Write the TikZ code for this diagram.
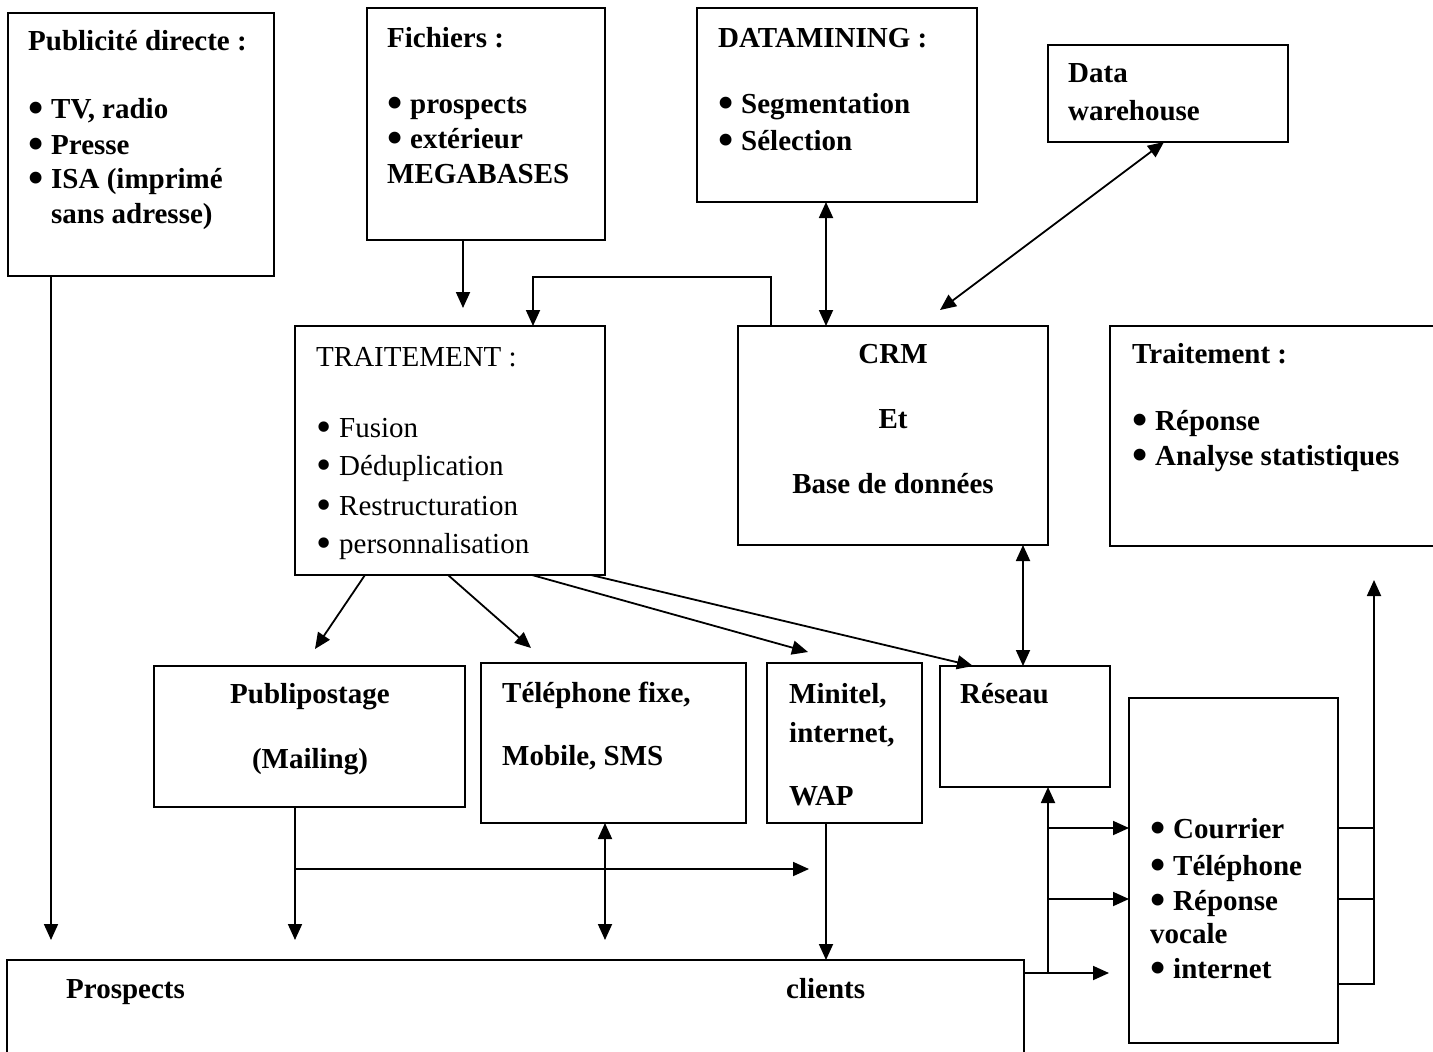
\documentclass[tikz,border=0pt]{standalone}
\usepackage{graphicx}
\usepackage{fontspec}
\setmainfont{Liberation Serif}
\usetikzlibrary{arrows.meta}
% enlarged bullet followed by a fixed indent
\newcommand\bl{\makebox[23pt][l]{\raisebox{-4.5pt}{\scalebox{1.5}{•}}}}
\begin{document}
\begin{tikzpicture}[x=1pt,y=-1pt,
  box/.style={draw, line width=2pt, inner sep=0pt, outer sep=0pt, anchor=north west},
  line/.style={inner sep=0pt, text height=20pt, text depth=6pt},
  txt/.style={line, anchor=base west, font=\fontsize{29}{35}\selectfont\bfseries},
  txtr/.style={line, anchor=base west, font=\fontsize{29}{35}\selectfont},
  txtc/.style={line, anchor=base, font=\fontsize{29}{35}\selectfont\bfseries},
  conn/.style={line width=1.8pt},
  arr/.style={conn, -{Triangle[length=16pt,width=14pt]}},
  darr/.style={conn, {Triangle[length=16pt,width=14pt]}-{Triangle[length=16pt,width=14pt]}},
]
\useasboundingbox (0,0) rectangle (1433,1052);

% boxes
\node[box, minimum width=266pt, minimum height=263pt] (A) at (8,13) {};
\node[box, minimum width=238pt, minimum height=232pt] (B) at (367,8) {};
\node[box, minimum width=280pt, minimum height=194pt] (C) at (697,8) {};
\node[box, minimum width=240pt, minimum height=97pt] (D) at (1048,45) {};
\node[box, minimum width=310pt, minimum height=249pt] (E) at (295,326) {};
\node[box, minimum width=310pt, minimum height=219pt] (F) at (738,326) {};
\node[box, minimum width=328pt, minimum height=220pt] (G) at (1110,326) {};
\node[box, minimum width=311pt, minimum height=141pt] (H) at (154,666) {};
\node[box, minimum width=265pt, minimum height=160pt] (I) at (481,663) {};
\node[box, minimum width=155pt, minimum height=160pt] (J) at (767,663) {};
\node[box, minimum width=170pt, minimum height=121pt] (K) at (940,666) {};
\node[box, minimum width=209pt, minimum height=345pt] (L) at (1129,698) {};
\node[box, minimum width=1017pt, minimum height=100pt] (M) at (7,960) {};

% texts
\node[txt] (a1) at (28,50) {Publicité directe :};
\node[txt] (a2) at (28,118) {\bl TV, radio};
\node[txt] (a3) at (28,154) {\bl Presse};
\node[txt] (a4) at (28,188) {\bl ISA (imprimé};
\node[txt] (a5) at (51,223) {sans adresse)};

\node[txt] (b1) at (387,47) {Fichiers :};
\node[txt] (b2) at (387,113) {\bl prospects};
\node[txt] (b3) at (387,148) {\bl extérieur};
\node[txt] (b4) at (387,183) {MEGABASES};

\node[txt] (c1) at (718,47) {DATAMINING :};
\node[txt] (c2) at (718,113) {\bl Segmentation};
\node[txt] (c3) at (718,150) {\bl Sélection};

\node[txt] (d1) at (1068,82) {Data};
\node[txt] (d2) at (1068,120) {warehouse};

\node[txtr] (e1t) at (316,366) {TRAITEMENT :};
\node[txtr] (e2t) at (316,437) {\bl Fusion};
\node[txtr] (e3t) at (316,475) {\bl Déduplication};
\node[txtr] (e4t) at (316,515) {\bl Restructuration};
\node[txtr] (e5t) at (316,553) {\bl personnalisation};

\node[txtc] (f1) at (893,363) {CRM};
\node[txtc] (f2) at (893,428) {Et};
\node[txtc] (f3) at (893,493) {Base de données};

\node[txt] (g1) at (1132,363) {Traitement :};
\node[txt] (g2) at (1132,430) {\bl Réponse};
\node[txt] (g3) at (1132,465) {\bl Analyse statistiques};

\node[txtc] (h1t) at (310,703) {Publipostage};
\node[txtc] (h2t) at (310,768) {(Mailing)};

\node[txt] (i1t) at (502,702) {Téléphone fixe,};
\node[txt] (i2t) at (502,765) {Mobile, SMS};

\node[txt] (j1t) at (789,703) {Minitel,};
\node[txt] (j2t) at (789,742) {internet,};
\node[txt] (j3t) at (789,805) {WAP};

\node[txt] (k1t) at (960,703) {Réseau};

\node[txt] (l1) at (1150,838) {\bl Courrier};
\node[txt] (l2) at (1150,875) {\bl Téléphone};
\node[txt] (l3) at (1150,910) {\bl Réponse};
\node[txt] (l4) at (1150,943) {vocale};
\node[txt] (l5) at (1150,978) {\bl internet};

\node[txt] (m1) at (66,998) {Prospects};
\node[txt] (m2) at (786,998) {clients};

% connectors
\coordinate (aEnd) at (51,940);
\draw[arr] (A.south -| aEnd) -- (aEnd);

\coordinate (bEnd) at (463,308);
\draw[arr] (B.south -| bEnd) -- (bEnd);

\coordinate (fe1) at (771,277);
\coordinate (fe2) at (533,277);
\draw[arr] (F.north -| fe1) -- (fe1) -- (fe2) -- (E.north -| fe2);

\coordinate (cfx) at (826,0);
\draw[darr] (C.south -| cfx) -- (F.north -| cfx);

\coordinate (dwA) at (1164,0);
\coordinate (dwB) at (940,310);
\draw[darr] (D.south -| dwA) -- (dwB);

\coordinate (e1) at (365,0);
\coordinate (e2) at (448,0);
\coordinate (e3) at (532,0);
\coordinate (e4) at (591,0);
\coordinate (hIn) at (315,649);
\coordinate (iIn) at (531,648);
\coordinate (jIn) at (808,652);
\coordinate (kx) at (973,0);
\draw[arr] (E.south -| e1) -- (hIn);
\draw[arr] (E.south -| e2) -- (iIn);
\draw[arr] (E.south -| e3) -- (jIn);
\draw[arr] (E.south -| e4) -- (K.north -| kx);

\coordinate (fk) at (1023,0);
\draw[darr] (F.south -| fk) -- (K.north -| fk);

\coordinate (hx) at (295,940);
\coordinate (hb) at (295,869);
\coordinate (hbEnd) at (809,869);
\draw[arr] (H.south -| hx) -- (hx);
\draw[arr] (hb) -- (hbEnd);

\coordinate (ix) at (605,940);
\draw[darr] (I.south -| ix) -- (ix);

\coordinate (jx) at (826,0);
\draw[arr] (J.south -| jx) -- (M.north -| jx);

\coordinate (my) at (1048,973);
\coordinate (myEnd) at (1109,973);
\draw[arr] (M.east |- my) -- (myEnd);
\draw[arr] (my) -- (K.south -| my);
\coordinate (r1) at (1048,828);
\coordinate (r2) at (1048,899);
\draw[arr] (r1) -- (L.west |- r1);
\draw[arr] (r2) -- (L.west |- r2);

\coordinate (s1) at (1374,828);
\coordinate (s2) at (1374,899);
\coordinate (s3) at (1374,984);
\coordinate (gEnd) at (1374,580);
\draw[conn] (L.east |- s1) -- (s1);
\draw[conn] (L.east |- s2) -- (s2);
\draw[arr] (L.east |- s3) -- (s3) -- (gEnd);
\end{tikzpicture}
\end{document}
